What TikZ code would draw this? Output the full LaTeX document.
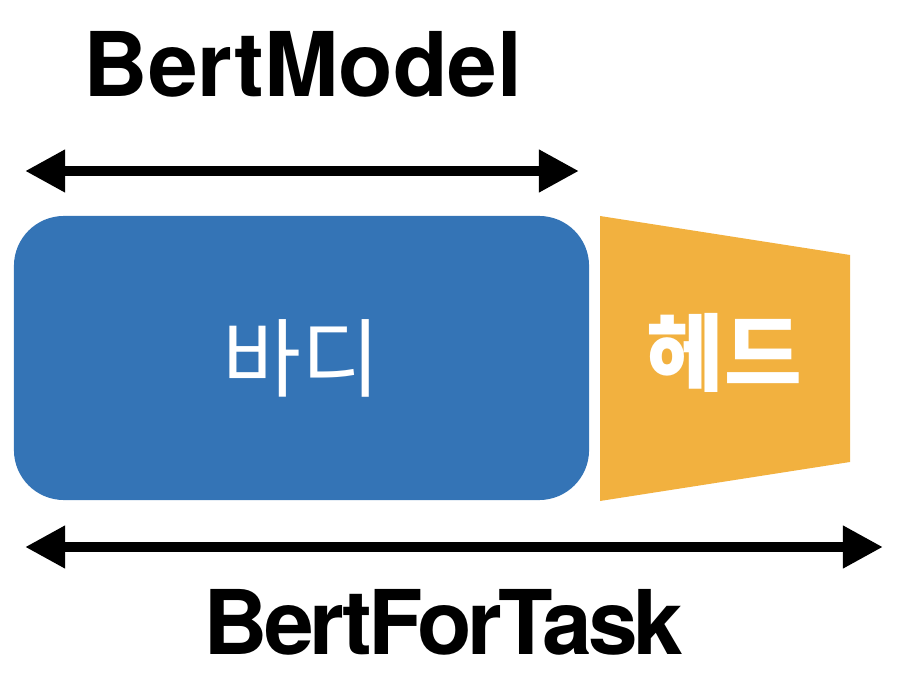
\documentclass[tikz,border=0pt]{standalone}
\usepackage{fontspec}
\setmainfont{TeX Gyre Heros}
\newfontfamily\kr{Noto Sans CJK KR}
\newfontfamily\tight[LetterSpace=-4.5]{TeX Gyre Heros}
\usetikzlibrary{arrows.meta}
\definecolor{bodyblue}{RGB}{52,116,182}
\definecolor{headorange}{RGB}{242,177,63}
\tikzset{
 span/.style={line width=.25cm,{Triangle[length=1cm,width=1cm]}-{Triangle[length=1cm,width=1cm]}},
 title/.style={font=\fontsize{63.5}{70}\selectfont\bfseries,anchor=base,inner sep=0},
 part/.style={text=white,font=\kr\fontsize{61}{70}\selectfont,inner sep=0}
}
\begin{document}
\begin{tikzpicture}[x=.025cm,y=-.025cm,line join=round]
 \useasboundingbox (0,0) rectangle (908,688);
 \node[title] (bertmodel) at (303,97) {BertModel};
 \coordinate (bm-l) at (25,171);
 \coordinate (bm-r) at (579,171);
 \draw[span] (bm-l)--(bm-r);
 \node[part,fill=bodyblue,rounded corners=1.25cm,minimum width=14.375cm,minimum height=7.1cm] (body) at (301.5,358) {바디};
 \fill[headorange] (600,216)--(850,255)--(850,462)--(600,501)--cycle;
 \node[part,font=\kr\fontsize{60}{70}\selectfont\bfseries] (head) at (724,353) {헤드};
 \coordinate (bt-l) at (25,547);
 \coordinate (bt-r) at (883,547);
 \draw[span] (bt-l)--(bt-r);
 \node[title,font=\tight\fontsize{63.5}{70}\selectfont\bfseries] (bertfortask) at (443.5,654) {BertForTask};
\end{tikzpicture}
\end{document}
